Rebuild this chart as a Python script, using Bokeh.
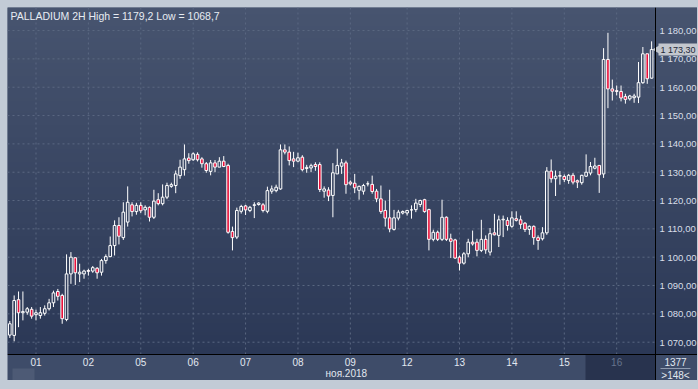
import numpy as np
from bokeh.plotting import figure
from bokeh.models import Range1d, Label, Span
from bokeh.embed import file_html
from bokeh.resources import INLINE
from bokeh.core.properties import value

# ---------------- data (PALLADIUM, 2H bars) ----------------
opens = [1072.5, 1072.4, 1085.0, 1080.4, 1080.6, 1081.6, 1079.7, 1079.4, 1080.2, 1081.8,
         1083.9, 1087.9, 1086.5, 1078.0, 1094.1, 1099.8, 1094.1, 1094.1, 1095.3, 1095.1,
         1096.1, 1094.7, 1098.8, 1100.2, 1104.1, 1111.2, 1106.9, 1112.4, 1118.5, 1116.1,
         1118.3, 1116.7, 1117.6, 1114.1, 1120.3, 1118.9, 1121.2, 1125.0, 1125.3, 1128.8,
         1130.9, 1135.0, 1134.4, 1136.3, 1134.7, 1133.0, 1130.3, 1133.3, 1131.8, 1133.9,
         1132.4, 1109.1, 1107.1, 1116.2, 1118.1, 1116.5, 1118.3, 1118.6, 1118.5, 1116.2,
         1123.3, 1123.5, 1124.1, 1137.9, 1137.1, 1134.7, 1133.9, 1135.3, 1131.3, 1131.5,
         1132.7, 1132.7, 1123.3, 1123.7, 1121.8, 1129.4, 1132.1, 1133.3, 1126.5, 1126.1,
         1123.6, 1123.3, 1125.9, 1125.7, 1123.3, 1120.6, 1116.5, 1113.9, 1109.8, 1113.8,
         1115.6, 1115.6, 1116.7, 1116.8, 1118.6, 1120.3, 1116.8, 1106.3, 1108.8, 1106.3,
         1114.1, 1106.5, 1106.1, 1100.0, 1097.9, 1101.2, 1105.3, 1105.3, 1102.4, 1106.3,
         1101.8, 1108.6, 1107.7, 1113.2, 1113.0, 1110.9, 1113.6, 1113.2, 1112.0, 1109.8,
         1110.9, 1106.9, 1106.5, 1108.6, 1130.4, 1127.7, 1128.6, 1128.5, 1127.1, 1128.9,
         1127.0, 1126.3, 1128.6, 1129.7, 1131.4, 1132.4, 1129.4, 1169.8, 1159.4, 1158.8,
         1158.5, 1156.7, 1155.9, 1156.3, 1156.5, 1161.6, 1171.8, 1163.2]
highs = [1077.5, 1086.5, 1087.9, 1087.9, 1082.4, 1082.4, 1081.5, 1082.4, 1083.0, 1085.3,
         1088.2, 1088.8, 1087.1, 1101.0, 1101.8, 1100.0, 1097.7, 1095.6, 1095.9, 1096.9,
         1096.5, 1099.4, 1101.0, 1107.3, 1113.0, 1114.1, 1119.4, 1125.0, 1119.4, 1119.2,
         1119.4, 1118.3, 1117.9, 1123.8, 1122.6, 1125.7, 1126.3, 1126.3, 1130.6, 1134.4,
         1139.8, 1136.7, 1137.0, 1137.0, 1135.3, 1133.6, 1134.3, 1134.3, 1135.3, 1135.7,
         1133.0, 1110.8, 1117.5, 1118.5, 1118.5, 1118.1, 1119.4, 1119.4, 1119.1, 1124.9,
         1125.3, 1125.6, 1139.8, 1139.8, 1139.1, 1137.2, 1136.9, 1136.0, 1132.6, 1133.0,
         1133.5, 1133.5, 1125.0, 1124.7, 1133.2, 1138.3, 1134.7, 1134.1, 1127.1, 1129.4,
         1125.3, 1125.9, 1126.8, 1128.8, 1124.1, 1125.3, 1120.0, 1123.8, 1116.7, 1116.7,
         1116.5, 1116.7, 1118.3, 1120.6, 1120.3, 1120.6, 1117.1, 1109.7, 1109.4, 1120.3,
         1114.4, 1108.3, 1106.5, 1100.6, 1101.8, 1106.5, 1109.4, 1106.5, 1113.2, 1107.7,
         1110.3, 1115.3, 1114.7, 1114.7, 1114.1, 1116.2, 1116.2, 1114.7, 1112.4, 1111.2,
         1111.2, 1107.7, 1110.6, 1131.8, 1134.5, 1130.6, 1130.4, 1129.2, 1129.4, 1129.7,
         1127.4, 1129.1, 1136.3, 1133.6, 1135.1, 1132.4, 1173.8, 1179.2, 1162.7, 1160.6,
         1160.6, 1157.7, 1157.3, 1157.7, 1168.9, 1174.2, 1171.8, 1176.2]
lows = [1071.5, 1070.3, 1075.3, 1077.7, 1079.7, 1078.3, 1077.7, 1078.3, 1079.4, 1081.2,
        1082.4, 1084.7, 1076.5, 1077.4, 1090.6, 1090.2, 1091.2, 1092.4, 1093.5, 1094.5,
        1092.4, 1093.5, 1097.7, 1100.0, 1100.6, 1104.5, 1106.1, 1110.8, 1114.4, 1115.0,
        1115.6, 1114.8, 1112.6, 1113.5, 1118.3, 1118.3, 1120.5, 1124.5, 1122.6, 1127.7,
        1128.8, 1133.0, 1134.0, 1133.8, 1131.6, 1129.8, 1128.9, 1130.0, 1131.8, 1131.8,
        1108.3, 1102.4, 1106.4, 1115.4, 1114.9, 1115.9, 1113.8, 1118.2, 1115.8, 1115.5,
        1122.4, 1122.9, 1123.8, 1136.3, 1132.4, 1131.8, 1133.5, 1130.3, 1129.8, 1130.0,
        1130.5, 1123.0, 1121.0, 1119.8, 1114.1, 1129.4, 1129.4, 1122.4, 1125.3, 1122.6,
        1120.3, 1122.1, 1125.0, 1122.4, 1119.4, 1115.3, 1110.8, 1108.8, 1109.4, 1113.0,
        1115.1, 1114.7, 1113.6, 1115.9, 1117.7, 1115.7, 1102.4, 1105.6, 1105.7, 1105.7,
        1105.7, 1099.7, 1099.4, 1095.3, 1097.4, 1100.0, 1104.1, 1100.3, 1101.8, 1101.2,
        1100.6, 1107.7, 1103.6, 1107.1, 1109.4, 1110.4, 1112.6, 1110.0, 1108.9, 1107.9,
        1104.4, 1102.6, 1105.9, 1107.9, 1126.3, 1121.6, 1125.6, 1126.5, 1125.9, 1125.7,
        1124.4, 1125.6, 1128.3, 1128.9, 1131.0, 1122.7, 1128.0, 1152.6, 1155.3, 1157.1,
        1155.0, 1154.2, 1155.3, 1154.5, 1154.4, 1161.2, 1161.2, 1163.0]
closes = [1076.5, 1084.7, 1080.4, 1080.8, 1081.8, 1079.2, 1080.4, 1080.4, 1081.8, 1083.9,
          1087.4, 1086.2, 1078.3, 1094.1, 1100.0, 1094.5, 1094.7, 1095.1, 1095.0, 1096.3,
          1094.5, 1098.8, 1100.2, 1104.1, 1111.2, 1107.4, 1115.9, 1119.4, 1116.1, 1118.3,
          1116.4, 1117.6, 1114.1, 1119.8, 1118.9, 1121.2, 1125.3, 1125.6, 1129.4, 1131.8,
          1134.7, 1134.1, 1136.5, 1134.4, 1133.0, 1130.6, 1133.3, 1131.8, 1133.9, 1132.0,
          1108.8, 1106.9, 1116.5, 1117.9, 1116.7, 1117.6, 1118.5, 1119.1, 1116.5, 1123.5,
          1124.1, 1124.7, 1137.9, 1137.1, 1134.1, 1133.9, 1135.1, 1130.9, 1131.7, 1132.3,
          1132.0, 1123.9, 1124.1, 1121.6, 1129.8, 1132.4, 1133.3, 1125.6, 1125.9, 1124.5,
          1125.0, 1125.3, 1125.9, 1123.2, 1120.6, 1116.1, 1113.8, 1110.0, 1113.9, 1115.9,
          1116.1, 1116.5, 1116.7, 1119.1, 1120.0, 1116.1, 1106.3, 1108.8, 1106.3, 1114.1,
          1106.3, 1105.6, 1099.7, 1097.9, 1101.2, 1105.3, 1104.7, 1102.4, 1106.3, 1102.6,
          1108.3, 1107.9, 1113.2, 1113.4, 1111.2, 1113.9, 1113.0, 1111.6, 1109.8, 1110.9,
          1106.9, 1105.9, 1108.6, 1130.4, 1127.7, 1128.6, 1128.8, 1127.4, 1128.9, 1126.5,
          1126.5, 1128.9, 1130.0, 1132.0, 1132.2, 1129.1, 1169.8, 1159.4, 1158.6, 1158.5,
          1156.2, 1155.7, 1156.9, 1156.9, 1161.6, 1171.8, 1163.0, 1173.3]

day_ticks = [6, 18, 30, 42, 54, 66, 78, 91, 103, 115, 127, 139]
day_labels = ["01", "02", "05", "06", "07", "08", "09", "12", "13", "14", "15", "16"]
month_label = "ноя.2018"
month_at = 78
price_ticks = [1070, 1080, 1090, 1100, 1110, 1120, 1130, 1140, 1150, 1160, 1170, 1180]
price_labels = ["1 070,00", "1 080,00", "1 090,00", "1 100,00", "1 110,00", "1 120,00",
                "1 130,00", "1 140,00", "1 150,00", "1 160,00", "1 170,00", "1 180,00"]
title_text = "PALLADIUM 2H High = 1179,2 Low = 1068,7"
last_price_text = "1 173,30"
bars_text = "1377"
visible_text = ">148<"

# ---------------- geometry (pixels <-> data) ----------------
PX_X = 4.366          # pixels per bar
PX_Y = 2.833          # pixels per price unit
FW, FH = 690, 373     # whole chart window
CHART_W, CHART_H = 648, 347   # price area (rest is the price / time scales)
X0 = -0.527
Y1 = 1188.14
XE = X0 + FW / PX_X
XR = X0 + CHART_W / PX_X       # right edge of price area
Y0 = Y1 - FH / PX_Y
YB = Y1 - CHART_H / PX_Y       # bottom edge of price area


def px_x(dpx):
    return dpx / PX_X


def px_y(dpx):
    return dpx / PX_Y


n = len(opens)
idx = list(range(n))
body_top = [max(o, c) for o, c in zip(opens, closes)]
body_bot = [min(o, c) for o, c in zip(opens, closes)]
up = [i for i in idx if closes[i] >= opens[i]]
dn = [i for i in idx if closes[i] < opens[i]]

BG_TOP = (0x47, 0x54, 0x6F)
BG_BOT = (0x2B, 0x38, 0x56)
BAND = "#3e4c69"
BAND_DARK = "#28334e"
FONT = "Liberation Sans"
TXT = "#e2e8f0"

p = figure(frame_width=FW, frame_height=FH,
           x_range=Range1d(X0, XE), y_range=Range1d(Y0, Y1),
           output_backend="svg", toolbar_location=None,
           min_border=0, background_fill_color=BAND, border_fill_color=BAND,
           outline_line_color=None)
p.axis.visible = False
p.grid.visible = False

# gradient background of price area + price scale
H = 256
t = np.linspace(0.0, 1.0, H)[:, None]
img = np.zeros((H, 1), dtype=np.uint32)
view = img.view(dtype=np.uint8).reshape((H, 1, 4))
for k in range(3):
    view[:, :, k] = np.round(BG_BOT[k] + (BG_TOP[k] - BG_BOT[k]) * t).astype(np.uint8)
view[:, :, 3] = 255
p.image_rgba(image=[img], x=X0, y=YB, dw=XE - X0, dh=Y1 - YB, level="image")

# time-scale band details
p.quad(left=[X0 + px_x(5)], right=[X0 + px_x(27)], bottom=[Y0], top=[Y0 + px_y(12)],
       fill_color="#4d5a75", line_color=None)
p.quad(left=[XR - px_x(70)], right=[XR], bottom=[Y0], top=[YB],
       fill_color=BAND_DARK, line_color=None)

# grid
p.segment(x0=day_ticks, y0=[YB] * len(day_ticks), x1=day_ticks, y1=[Y1] * len(day_ticks),
          line_color="#5b6882", line_dash="2 3", line_width=1)
p.segment(x0=[X0] * len(price_ticks), y0=price_ticks, x1=[XR] * len(price_ticks), y1=price_ticks,
          line_color="#5b6882", line_dash="2 3", line_width=1)

# wicks (upper and lower parts)
p.segment(x0=idx, y0=highs, x1=idx, y1=body_top, line_color="white", line_width=1)
p.segment(x0=idx, y0=body_bot, x1=idx, y1=lows, line_color="white", line_width=1)

# bodies
W = 0.6
p.vbar(x=up, width=W, top=[body_top[i] for i in up], bottom=[body_bot[i] for i in up],
       fill_alpha=0.0, line_color="white", line_width=1)
p.vbar(x=dn, width=W, top=[body_top[i] for i in dn], bottom=[body_bot[i] for i in dn],
       fill_color="#e8103a", line_color="white", line_width=1)

# separators of the scales
p.add_layout(Span(location=XR, dimension="height", line_color="black", line_width=1))
p.add_layout(Span(location=YB, dimension="width", line_color="black", line_width=1))

# price scale labels
p.text(x=[XR] * len(price_ticks), y=price_ticks, text=price_labels, x_offset=4,
       text_baseline="middle", text_align="left", text_color="#d8dee8",
       text_font=value(FONT), text_font_size=value("9.5px"))

# time scale labels
lab_y = YB - px_y(7.5)
p.text(x=day_ticks[:-1], y=[lab_y] * (len(day_ticks) - 1), text=day_labels[:-1],
       text_baseline="middle", text_align="center", text_color=TXT,
       text_font=value(FONT), text_font_size=value("10px"))
p.text(x=[day_ticks[-1]], y=[lab_y], text=[day_labels[-1]],
       text_baseline="middle", text_align="center", text_color="#66748d",
       text_font=value(FONT), text_font_size=value("10px"))
p.text(x=[month_at], y=[YB - px_y(18.5)], text=[month_label], x_offset=-4,
       text_baseline="middle", text_align="center", text_color=TXT,
       text_font=value(FONT), text_font_size=value("10px"))

# bar counters in the corner
cx = XR + px_x(20)
p.text(x=[cx], y=[YB - px_y(7.5)], text=[bars_text], text_baseline="middle", text_align="center",
       text_color=TXT, text_font=value(FONT), text_font_size=value("10px"))
p.segment(x0=[XR + px_x(5)], y0=[YB - px_y(14)], x1=[XR + px_x(35)], y1=[YB - px_y(14)],
          line_color="#8f9bb0", line_width=1)
p.text(x=[cx], y=[YB - px_y(20.5)], text=[visible_text], text_baseline="middle", text_align="center",
       text_color=TXT, text_font=value(FONT), text_font_size=value("10px"))

# header text
p.add_layout(Label(x=X0, y=Y1, x_offset=3, y_offset=-2, text=title_text,
                   text_baseline="top", text_align="left", text_color="#e6ebf2",
                   text_font=FONT, text_font_size="10.5px"))

# current price marker
TAG = "#c3c7ce"
p.scatter(x=[XR + px_x(2)], y=[closes[-1]], marker="triangle", size=9, angle=np.pi / 2,
          fill_color=TAG, line_color=None)
p.add_layout(Label(x=XR, y=closes[-1], x_offset=3, text=last_price_text,
                   text_baseline="middle", text_align="left", text_color="#1d2738",
                   text_font=FONT, text_font_size="9px",
                   background_fill_color=TAG,
                   padding=dict(left=2, right=2, top=1, bottom=1)))

html = file_html(p, INLINE, title="PALLADIUM 2H")
html = html.replace("</head>",
                    "<style>html,body{background:#c2cbd6;} body{padding:7px 0 0 7px !important;}</style></head>", 1)
open("out.html", "w").write(html)
